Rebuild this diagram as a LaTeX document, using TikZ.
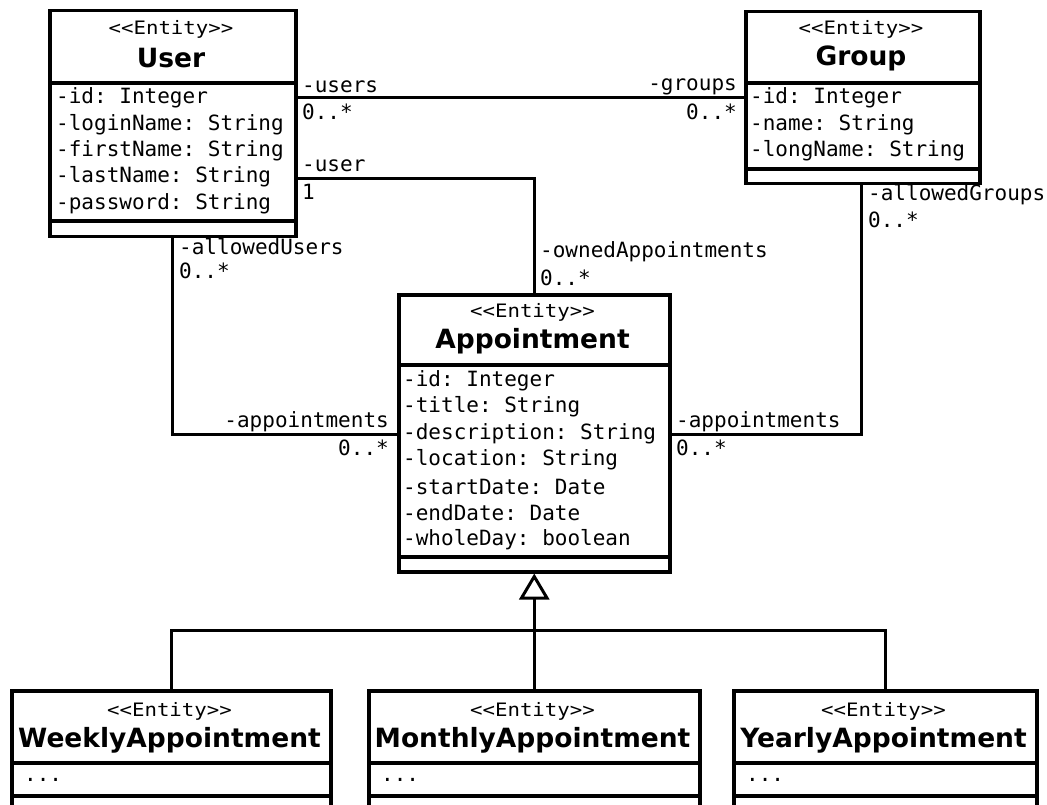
\documentclass[tikz,border=0pt]{standalone}
\usepackage{fontspec}
\setmainfont{DejaVu Sans}
\setmonofont{DejaVu Sans Mono}
\newfontfamily\sterfont{DejaVu Sans Mono}[FakeStretch=1.12]
\usetikzlibrary{arrows.meta}
\newcommand{\ster}{<{}<Entity>{}>}
\begin{document}
\begin{tikzpicture}[x=1pt,y=-1pt,
  cls/.style={draw, line width=3.5pt, inner sep=0pt, anchor=north west, fill=white},
  attr/.style={font=\ttfamily\fontsize{21}{24}\selectfont, anchor=west, inner sep=0pt},
  stereo/.style={font=\sterfont\fontsize{18.5}{20}\selectfont, inner sep=0pt},
  cname/.style={font=\bfseries\fontsize{26.5}{30}\selectfont, inner sep=0pt},
  rolew/.style={font=\ttfamily\fontsize{21}{24}\selectfont, inner sep=0pt, anchor=west},
  rolee/.style={font=\ttfamily\fontsize{21}{24}\selectfont, inner sep=0pt, anchor=east},
  conn/.style={line width=3pt},
  divl/.style={line width=3.5pt}]
\useasboundingbox (0,0) rectangle (1047,805);
\clip (0,0) rectangle (1047,805);
\fill[white] (0,0) rectangle (1047,805);

% ---------- User ----------
\node[cls, minimum width=246pt, minimum height=226pt] (user) at (48,9) {};
\draw[divl] (48,83) -- (294,83);
\draw[divl] (48,221) -- (294,221);
\node[stereo] (userst) at (171,29) {\ster};
\node[cname] (usern) at (171,58) {User};
\node[attr] (ua1) at (56,98) {-id: Integer};
\node[attr] (ua2) at (56,125) {-loginName: String};
\node[attr] (ua3) at (56,151) {-firstName: String};
\node[attr] (ua4) at (56,177) {-lastName: String};
\node[attr] (ua5) at (56,204) {-password: String};

% ---------- Group ----------
\node[cls, minimum width=234pt, minimum height=172pt] (group) at (744,10) {};
\draw[divl] (744,83) -- (978,83);
\draw[divl] (744,169) -- (978,169);
\node[stereo] (groupst) at (861,29) {\ster};
\node[cname] (groupn) at (861,58) {Group};
\node[attr] (ga1) at (750,98) {-id: Integer};
\node[attr] (ga2) at (750,125) {-name: String};
\node[attr] (ga3) at (750,151) {-longName: String};

% ---------- Appointment ----------
\node[cls, minimum width=271pt, minimum height=277pt] (app) at (397,293) {};
\draw[divl] (397,365) -- (668,365);
\draw[divl] (397,557) -- (668,557);
\node[stereo] (appst) at (532.5,312) {\ster};
\node[cname] (appn) at (532.5,341) {Appointment};
\node[attr] (aa1) at (403,381) {-id: Integer};
\node[attr] (aa2) at (403,407) {-title: String};
\node[attr] (aa3) at (403,434) {-description: String};
\node[attr] (aa4) at (403,460) {-location: String};
\node[attr] (aa5) at (403,487) {-startDate: Date};
\node[attr] (aa6) at (403,513) {-endDate: Date};
\node[attr] (aa7) at (403,540) {-wholeDay: boolean};

% ---------- Subclasses ----------
\node[cls, minimum width=319pt, minimum height=150pt] (weekly) at (10,689) {};
\draw[divl] (10,763) -- (329,763);
\draw[divl] (10,796) -- (329,796);
\node[stereo] (weeklyst) at (169.5,711) {\ster};
\node[cname] (weeklyn) at (169.5,740) {WeeklyAppointment};
\node[attr] (wa1) at (24,780) {...};

\node[cls, minimum width=331pt, minimum height=150pt] (monthly) at (367,689) {};
\draw[divl] (367,763) -- (698,763);
\draw[divl] (367,796) -- (698,796);
\node[stereo] (monthlyst) at (532.5,711) {\ster};
\node[cname] (monthlyn) at (532.5,740) {MonthlyAppointment};
\node[attr] (ma1) at (381,780) {...};

\node[cls, minimum width=303pt, minimum height=150pt] (yearly) at (732,689) {};
\draw[divl] (732,763) -- (1035,763);
\draw[divl] (732,796) -- (1035,796);
\node[stereo] (yearlyst) at (883.5,711) {\ster};
\node[cname] (yearlyn) at (883.5,740) {YearlyAppointment};
\node[attr] (ya1) at (746,780) {...};

% ---------- Associations ----------
\coordinate (ugy) at (0,98);
\draw[conn] (user.east |- ugy) -- (group.west |- ugy);
\node[rolew] (l1) at (302,87) {-users};
\node[rolew] (l2) at (302,112) {0..*};
\node[rolee] (l3) at (737,87) {-groups};
\node[rolee] (l4) at (737,112) {0..*};

\coordinate (uay) at (0,179);
\draw[conn] (user.east |- uay) -| (app.north);
\node[rolew] (l5) at (302,166) {-user};
\node[rolew] (l6) at (302,192) {1};
\node[rolew] (l7) at (540,252) {-ownedAppointments};
\node[rolew] (l8) at (540,278) {0..*};

\coordinate (auy) at (172,434);
\draw[conn] (user.south -| auy) |- (app.west |- auy);
\node[rolew] (l9) at (179,247) {-allowedUsers};
\node[rolew] (l10) at (179,271) {0..*};
\node[rolee] (l11) at (389,422) {-appointments};
\node[rolee] (l12) at (389,448) {0..*};

\coordinate (agy) at (861,434);
\draw[conn] (group.south -| agy) |- (app.east |- agy);
\node[rolew] (l13) at (868,195) {-allowedGroups};
\node[rolew] (l14) at (868,220) {0..*};
\node[rolew] (l15) at (676,422) {-appointments};
\node[rolew] (l16) at (676,448) {0..*};

% ---------- Generalization ----------
\coordinate (bar) at (532.5,630);
\draw[conn, -{Triangle[open, length=26pt, width=30pt, line width=3pt]}] (monthly.north) -- (app.south);
\draw[conn] (weekly.north) |- (bar);
\draw[conn] (yearly.north) |- (bar);
\end{tikzpicture}
\end{document}
